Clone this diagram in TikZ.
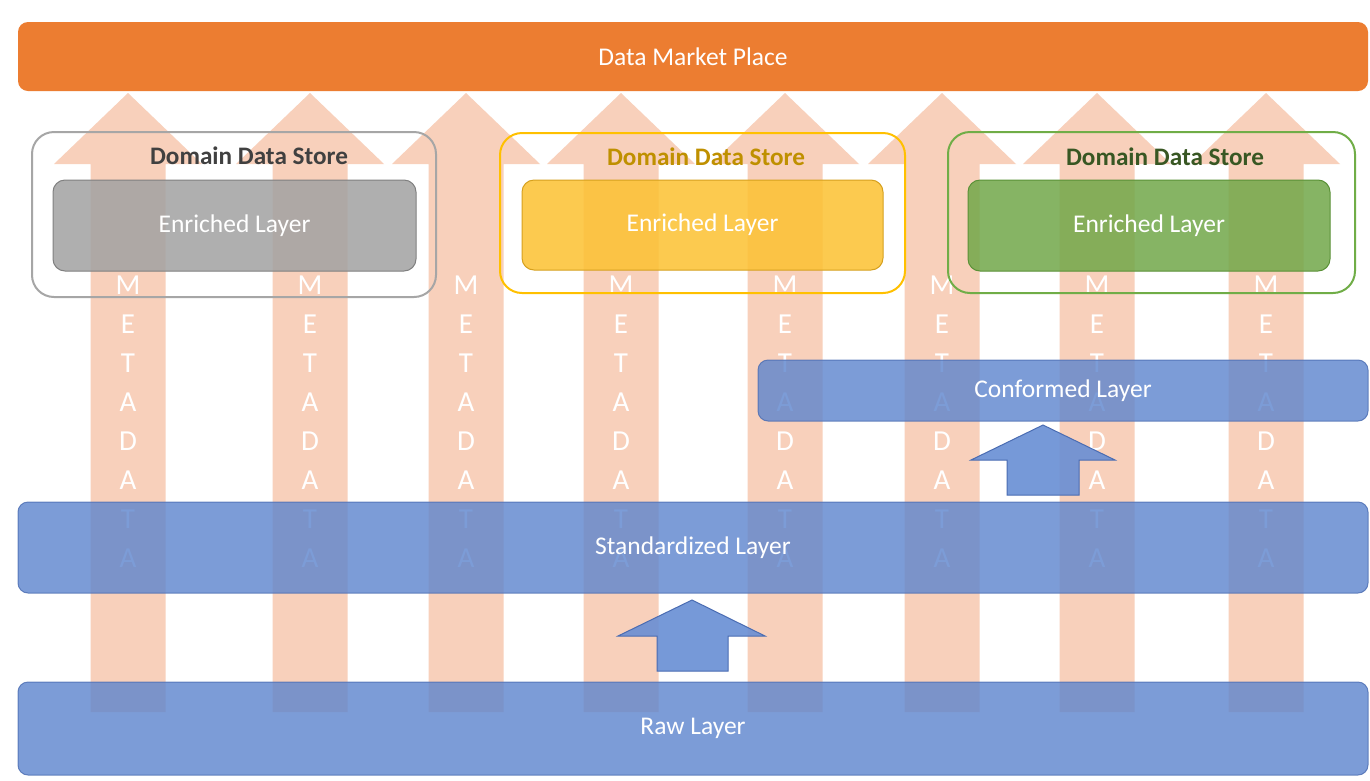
\documentclass[tikz,border=0pt]{standalone}
\usepackage{fontspec}
\setmainfont{Carlito}
\definecolor{peach}{RGB}{248,208,187}
\definecolor{mkt}{RGB}{236,125,49}
\definecolor{layerblue}{RGB}{92,132,205}
\definecolor{layeredge}{RGB}{74,108,178}
\definecolor{arrowblue}{RGB}{104,142,212}
\definecolor{grayfill}{RGB}{162,162,162}
\definecolor{grayedge}{RGB}{128,128,128}
\definecolor{grayframe}{RGB}{166,166,166}
\definecolor{yelfill}{RGB}{252,193,49}
\definecolor{yeledge}{RGB}{214,160,30}
\definecolor{yelframe}{RGB}{255,192,0}
\definecolor{grnfill}{RGB}{113,167,73}
\definecolor{grnedge}{RGB}{90,145,55}
\definecolor{grnframe}{RGB}{112,173,71}
\definecolor{graytitle}{RGB}{64,64,64}
\definecolor{yeltitle}{RGB}{191,144,0}
\definecolor{grntitle}{RGB}{56,87,35}
\newcommand{\lowtext}[1]{\raisebox{-2pt}{#1}}
\begin{document}
\begin{tikzpicture}[x=1pt,y=-1pt,
  meta/.style={fill=peach},
  metaletter/.style={text=white,font=\fontsize{29}{29}\selectfont,inner sep=0pt},
  boxtext/.style={text=white,text opacity=1,font=\fontsize{25.5}{28}\selectfont},
  layerbox/.style={boxtext,fill=layerblue,fill opacity=0.8,draw=layeredge,draw opacity=0.8,line width=1pt,rounded corners=10pt},
  enriched/.style={boxtext,fill opacity=0.85,line width=1pt,rounded corners=12pt},
  storeframe/.style={line width=2pt,rounded corners=22pt},
  storetitle/.style={font=\bfseries\fontsize{25.2}{28}\selectfont,inner sep=0pt},
  uparrow/.style={fill=arrowblue,fill opacity=0.9,draw=layeredge,line width=1pt},
  market/.style={boxtext,fill=mkt,rounded corners=10pt}
]
\fill[white] (0,0) rectangle (1370,780);
\useasboundingbox (0,0) rectangle (1370,780);

% metadata arrows
\foreach \cx [count=\i] in {128,310,466,621,785,942,1097,1266}{
  \fill[meta] (\cx-37.5,712) -- (\cx-37.5,164) -- (\cx-74,164) -- (\cx,93)
     -- (\cx+74,164) -- (\cx+37.5,164) -- (\cx+37.5,712) -- cycle;
  \foreach \l [count=\j] in {M,E,T,A,D,A,T,A}{
    \node[metaletter] (m\i-\j) at (\cx,285+39*\j-39) {\l};
  }
}

% domain data store frames
\node[storeframe,draw=grayframe,minimum width=404pt,minimum height=165pt] (f1) at (234,214.5) {};
\node[storeframe,draw=yelframe,minimum width=405pt,minimum height=160pt] (f2) at (702.5,213) {};
\node[storeframe,draw=grnframe,minimum width=407pt,minimum height=161pt] (f3) at (1151.5,212.5) {};

% enriched layers
\node[enriched,fill=grayfill,draw=grayedge,minimum width=363pt,minimum height=91pt] (e1) at (234.5,225.5) {\lowtext{Enriched Layer}};
\node[enriched,fill=yelfill,draw=yeledge,minimum width=361pt,minimum height=90pt] (e2) at (702.5,225) {\lowtext{Enriched Layer}};
\node[enriched,fill=grnfill,draw=grnedge,minimum width=362pt,minimum height=91pt] (e3) at (1149,225.5) {\lowtext{Enriched Layer}};

% titles
\node[storetitle,text=graytitle] (t1) at (249,156) {Domain Data Store};
\node[storetitle,text=yeltitle] (t2) at (706,157) {Domain Data Store};
\node[storetitle,text=grntitle] (t3) at (1165,157) {Domain Data Store};

% blue layers
\node[layerbox,minimum width=610pt,minimum height=61pt] (conf) at (1063,390.5) {\lowtext{Conformed Layer}};
\node[layerbox,minimum width=1350pt,minimum height=91pt] (std) at (693,547.5) {\lowtext{Standardized Layer}};
\node[layerbox,minimum width=1350pt,minimum height=93pt] (raw) at (693,728.5) {\lowtext{Raw Layer}};

% block arrows between layers
\filldraw[uparrow] (657,671) -- (657,636) -- (618,636) -- (692,600) -- (765,636) -- (728,636) -- (728,671) -- cycle;
\filldraw[uparrow] (1007,495) -- (1007,460) -- (971,460) -- (1043,425) -- (1115,460) -- (1079,460) -- (1079,495) -- cycle;

% market place
\node[market,minimum width=1350pt,minimum height=69pt] (mkt) at (693,56.5) {\lowtext{Data Market Place}};
\end{tikzpicture}
\end{document}
